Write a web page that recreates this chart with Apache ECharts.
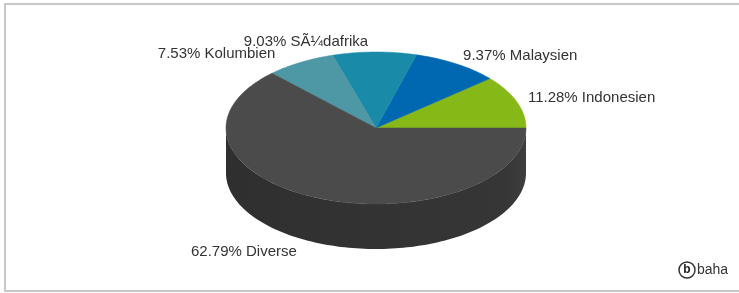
<!DOCTYPE html>
<html>
<head>
<meta charset="utf-8">
<script src="https://cdn.jsdelivr.net/npm/echarts@6.0.0/dist/echarts.min.js"></script>
<style>
  html, body { margin: 0; padding: 0; background: #fff; }
  #main { width: 739px; height: 293px; }
</style>
</head>
<body>
<div id="main"></div>
<script>
// Werte
var countries = ['Indonesien', 'Malaysien', 'SÃ¼dafrika', 'Kolumbien', 'Diverse'];
var shares = [11.28, 9.37, 9.03, 7.53, 62.79];
var topColors = ['#86b817', '#0068b1', '#1a8aa9', '#4e97a5', '#4b4b4b'];
var sideColors = ['#6a9212', '#00518a', '#146b84', '#3d7681', '#333333'];

// Lage der "3D"-Torte
var cx = 376, cy = 128, rx = 150, ry = 76, depth = 45;

var total = shares.reduce(function (a, b) { return a + b; }, 0);
var angles = [];
var acc = 0;
for (var i = 0; i < shares.length; i++) {
  var start = acc / total * 360;
  acc += shares[i];
  angles.push([start, acc / total * 360]);
}

function pt(deg, dy) {
  var r = deg * Math.PI / 180;
  return [cx + rx * Math.cos(r), cy - ry * Math.sin(r) + (dy || 0)];
}

function arc(a1, a2, dy) {
  var pts = [];
  var n = Math.max(2, Math.ceil((a2 - a1) / 1.5));
  for (var k = 0; k <= n; k++) {
    pts.push(pt(a1 + (a2 - a1) * k / n, dy));
  }
  return pts;
}

function renderSide(params, api) {
  var a = angles[params.dataIndex];
  var s = Math.max(a[0], 180), e = Math.min(a[1], 360);
  if (s >= e) return { type: 'group', children: [] };
  var top = arc(s, e, 0);
  var bottom = arc(s, e, depth).reverse();
  return {
    type: 'polygon',
    shape: { points: top.concat(bottom) },
    style: {
      fill: new echarts.graphic.LinearGradient(0, 0, 1, 0, [
        { offset: 0, color: '#2f2f2f' },
        { offset: 0.5, color: sideColors[params.dataIndex] },
        { offset: 0.93, color: '#363636' },
        { offset: 1, color: '#3e3e3e' }
      ]),
      stroke: null
    }
  };
}

function renderTop(params, api) {
  var idx = params.dataIndex;
  var a = angles[idx];
  var pts = [[cx, cy]].concat(arc(a[0], a[1], 0));
  var mid = (a[0] + a[1]) / 2;
  var r = mid * Math.PI / 180;
  var c = Math.cos(r), s = Math.sin(r);
  var left = c < 0;
  var R = left ? rx + 37 : rx + 12;
  var lx = cx + R * c - (left ? 6 : 0);
  var ly = cy - (ry + 10) * s + (s < 0 ? depth : 0);
  return {
    type: 'group',
    children: [
      {
        type: 'polygon',
        shape: { points: pts },
        style: { fill: topColors[idx], stroke: topColors[idx], lineWidth: 0.5 }
      },
      {
        type: 'text',
        x: lx,
        y: ly,
        style: {
          text: api.value(0).toFixed(2) + '% ' + countries[idx],
          fill: '#333',
          font: '15px "Liberation Sans", Arial, sans-serif',
          textAlign: left ? 'right' : 'left',
          textVerticalAlign: 'middle'
        }
      }
    ]
  };
}

var chart = echarts.init(document.getElementById('main'));
chart.setOption({
  animation: false,
  backgroundColor: '#fff',
  graphic: [
    {
      type: 'rect',
      shape: { x: 5, y: 4, width: 800, height: 287 },
      style: { fill: null, stroke: '#c8c8c8', lineWidth: 2 },
      silent: true
    },
    {
      type: 'circle',
      shape: { cx: 687, cy: 270, r: 8 },
      style: { fill: '#fff', stroke: '#333', lineWidth: 1.5 }
    },
    {
      type: 'text',
      x: 687, y: 270,
      style: { text: 'b', fill: '#222', font: 'bold 12px "Liberation Sans", Arial, sans-serif', textAlign: 'center', textVerticalAlign: 'middle' }
    },
    {
      type: 'text',
      x: 697, y: 270,
      style: { text: 'baha', fill: '#333', font: '14px "Liberation Sans", Arial, sans-serif', textAlign: 'left', textVerticalAlign: 'middle' }
    }
  ],
  series: [
    {
      type: 'custom',
      coordinateSystem: 'none',
      silent: true,
      z: 1,
      data: shares.map(function (v) { return [v]; }),
      renderItem: renderSide
    },
    {
      type: 'custom',
      coordinateSystem: 'none',
      silent: true,
      z: 2,
      data: shares.map(function (v) { return [v]; }),
      renderItem: renderTop
    }
  ]
});
</script>
</body>
</html>
